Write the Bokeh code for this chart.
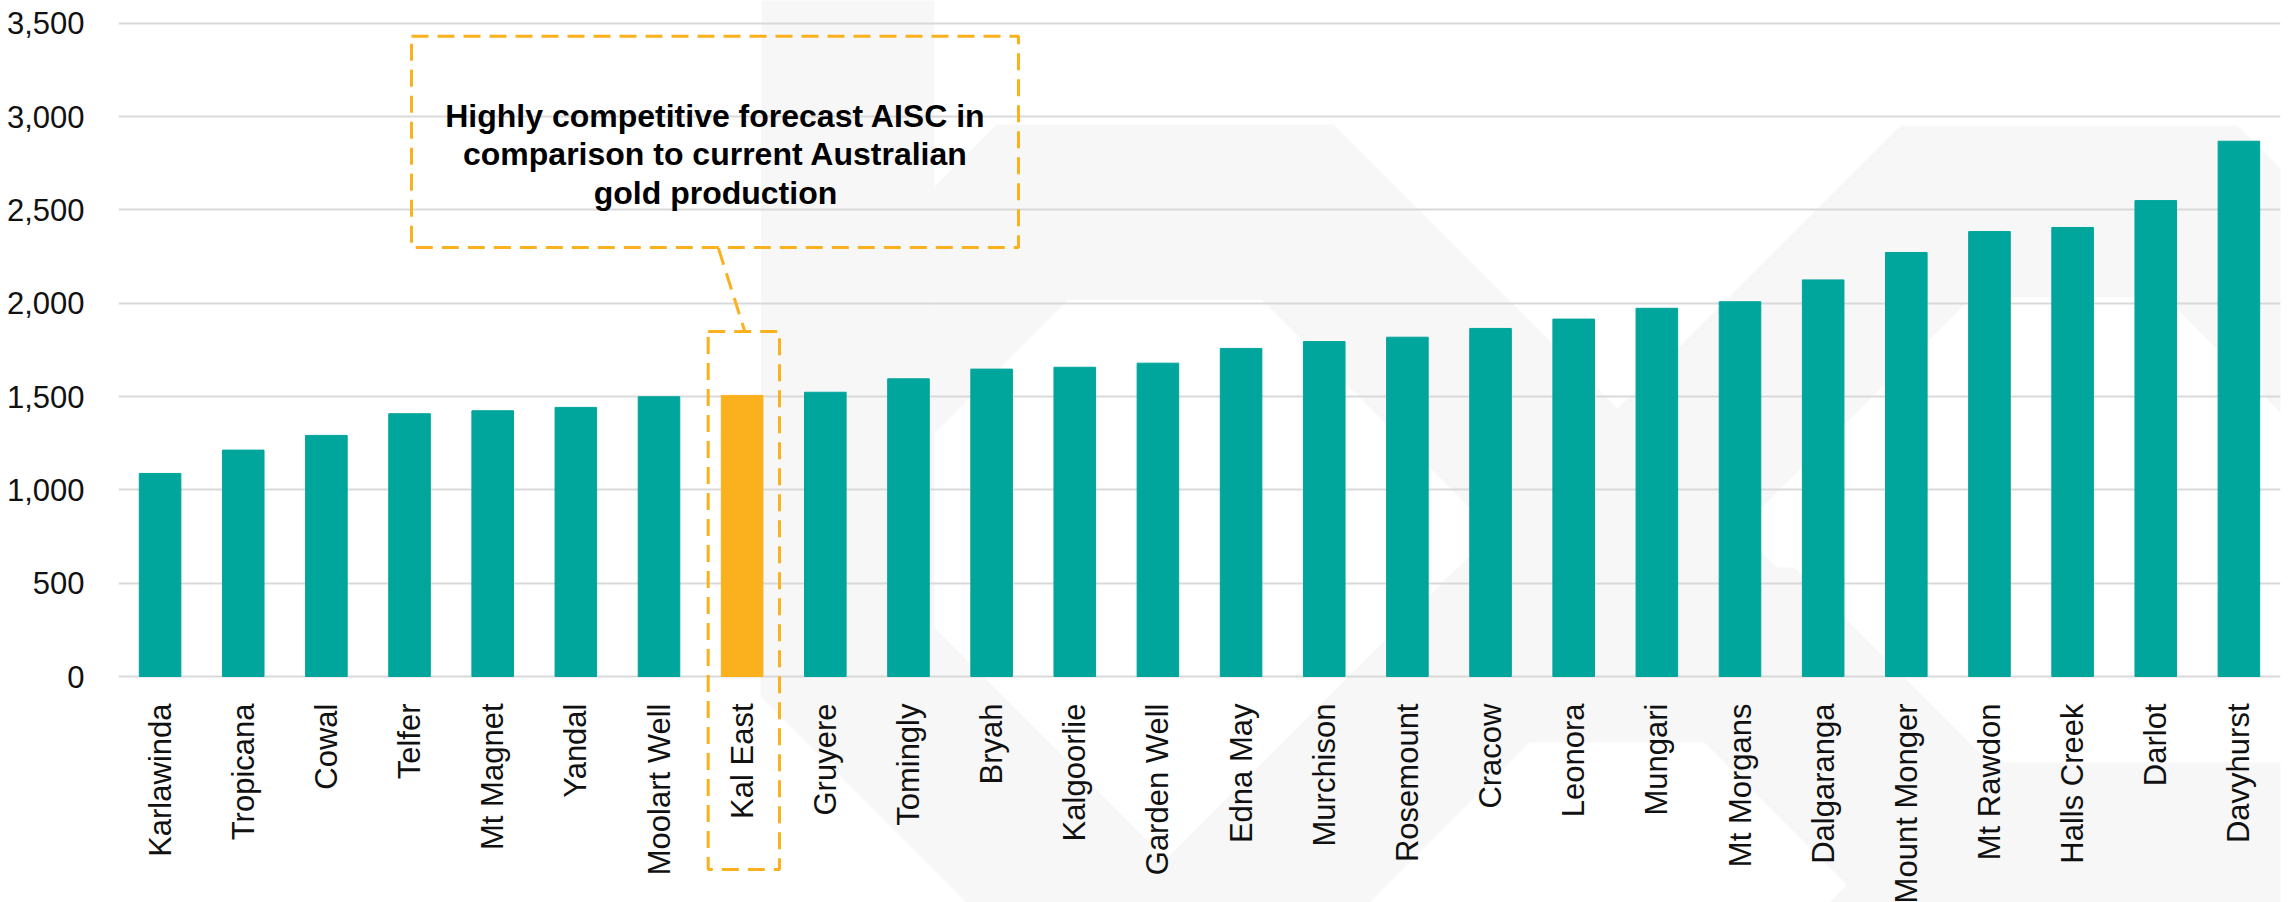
import math
from bokeh.plotting import figure
from bokeh.models import (FactorRange, Range1d, FixedTicker, NumeralTickFormatter,
                          BoxAnnotation, PolyAnnotation, Label, ColumnDataSource)
from bokeh.embed import file_html
from bokeh.resources import INLINE

# ---------------- data ----------------
mines = ["Karlawinda", "Tropicana", "Cowal", "Telfer", "Mt Magnet", "Yandal",
         "Moolart Well", "Kal East", "Gruyere", "Tomingly", "Bryah", "Kalgoorlie",
         "Garden Well", "Edna May", "Murchison", "Rosemount", "Cracow", "Leonora",
         "Mungari", "Mt Morgans", "Dalgaranga", "Mount Monger", "Mt Rawdon",
         "Halls Creek", "Darlot", "Davyhurst"]
aisc = [1088, 1213, 1292, 1408, 1424, 1442, 1499, 1506, 1523, 1595, 1647, 1657,
        1679, 1758, 1795, 1818, 1865, 1915, 1973, 2008, 2125, 2272, 2384, 2406,
        2550, 2868]
highlight = "Kal East"
y_ticks = [0, 500, 1000, 1500, 2000, 2500, 3000, 3500]
note_lines = ["Highly competitive forecast AISC in",
              "comparison to current Australian",
              "gold production"]

# ---------------- style ----------------
TEAL = "#00A59B"
ORANGE = "#FBB01E"
GRID = "#D9D9D9"
WATER = "#F7F7F7"
FONT = "Liberation Sans"

colors = [ORANGE if m == highlight else TEAL for m in mines]
src = ColumnDataSource(dict(mine=mines, aisc=aisc, color=colors))

# the frame covers the full height of the canvas (0..902); 3500 at y=22.8, 0 at y=676
PX_PER_UNIT = 653.2 / 3500.0
Y_TOP = 3500 + 22.8 / PX_PER_UNIT
Y_BOT = -(902 - 676) / PX_PER_UNIT

p = figure(width=2292, height=902, output_backend="svg", toolbar_location=None,
           x_range=FactorRange(factors=mines, range_padding=0),
           y_range=Range1d(Y_BOT, Y_TOP),
           min_border_left=118, min_border_right=12,
           min_border_top=0, min_border_bottom=0,
           background_fill_color="white", border_fill_color="white")
p.outline_line_color = None

# helper: picture pixel -> data coords (decorations only)
def to_data(px, py):
    return ((px - 118.0) / (2162.0 / 26.0), (676.0 - py) / PX_PER_UNIT)

def poly(pts):
    xs, ys = zip(*[to_data(a, b) for a, b in pts])
    return PolyAnnotation(xs=list(xs), ys=list(ys), fill_color=WATER, fill_alpha=1.0,
                          line_color=None, line_alpha=0, level="image")

# faint background watermark
band = [(761, -5), (934, -5), (934, 627), (1214, 907), (971, 907), (760, 696)]
chevA = [(934, 186), (996, 124), (1333, 124), (2116, 907), (1869, 907),
         (1261, 299), (1068, 299), (934, 433)]
chevB = [(1900, 125), (2237, 125), (3019, 907), (2775, 907), (2165, 297),
         (1971, 297), (1361, 907), (1118, 907)]
chevC = [(1457, 567), (1794, 567), (2134, 907), (1887, 907), (1722, 742),
         (1529, 742), (1364, 907), (1117, 907)]
chevD = [(1969, 762), (2400, 762), (2400, 907), (1824, 907)]
for shape in (band, chevA, chevB, chevC, chevD):
    p.add_layout(poly(shape))

# bars
p.vbar(x="mine", top="aisc", width=0.5, bottom=0, source=src,
       fill_color="color", line_color="color", line_width=1)

# axes
p.yaxis.ticker = FixedTicker(ticks=y_ticks)
p.yaxis.formatter = NumeralTickFormatter(format="0,0")
p.yaxis.axis_line_color = None
p.yaxis.major_tick_line_color = None
p.yaxis.minor_tick_line_color = None
p.yaxis.major_label_standoff = 28
p.yaxis.major_label_text_font = FONT
p.yaxis.major_label_text_font_size = "31px"
p.yaxis.major_label_text_color = "#111111"

p.xaxis.fixed_location = 0
p.xaxis.axis_line_color = None
p.xaxis.major_tick_line_color = None
p.xaxis.minor_tick_line_color = None
p.xaxis.major_label_orientation = math.pi / 2
p.xaxis.major_label_standoff = 21
p.xaxis.major_label_text_font = FONT
p.xaxis.major_label_text_font_size = "31px"
p.xaxis.major_label_text_color = "#111111"

p.xgrid.grid_line_color = None
p.ygrid.grid_line_color = GRID
p.ygrid.grid_line_width = 2

box_style = dict(fill_color=None, fill_alpha=0, line_color=ORANGE, line_alpha=1.0,
                 line_width=3, line_dash="17 9", level="annotation")
# call-out box
l, t = to_data(411, 35.7)
r, b = to_data(1018, 247)
p.add_layout(BoxAnnotation(left=l, right=r, top=t, bottom=b, **box_style))
# highlight box round Kal East
l2, t2 = to_data(707.7, 331)
r2, b2 = to_data(779, 869)
p.add_layout(BoxAnnotation(left=l2, right=r2, top=t2, bottom=b2, **box_style))
# connector
x0, y0 = to_data(718, 248)
x1, y1 = to_data(744, 330)
p.segment(x0=[x0], y0=[y0], x1=[x1], y1=[y1], line_color=ORANGE, line_width=3,
          line_dash="17 9")

# call-out text
cx, _ = to_data(715, 0)
for line, base in zip(note_lines, (115, 153, 192)):
    _, yy = to_data(0, base)
    p.add_layout(Label(x=cx, y=yy, text=line, text_align="center",
                       text_baseline="alphabetic", text_font=FONT,
                       text_font_style="bold", text_font_size="32px",
                       text_color="#000000"))

open("out.html", "w").write(file_html(p, INLINE))
